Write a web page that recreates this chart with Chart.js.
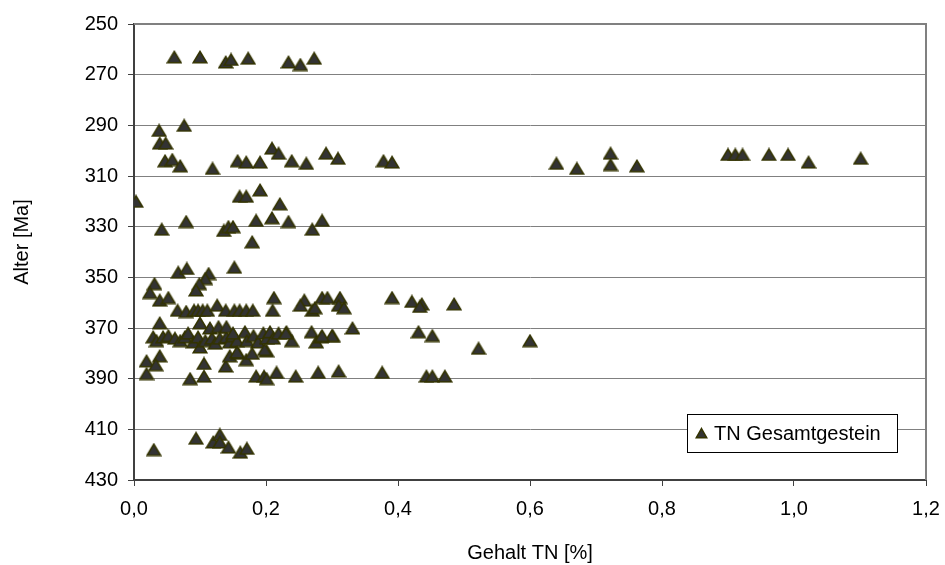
<!DOCTYPE html>
<html>
<head>
<meta charset="utf-8">
<script src="https://cdn.jsdelivr.net/npm/chart.js@4"></script>
<style>
  body { margin: 0; background: #fff; }
</style>
</head>
<body>
<canvas id="chart" width="945" height="565"></canvas>
<script>
// Gehalt TN [%] (x) und Alter [Ma] (y)
const gehaltTN = [
  0.061, 0.100, 0.139, 0.147, 0.173, 0.234, 0.252, 0.273,
  0.038, 0.076, 0.039, 0.048, 0.047, 0.058, 0.070, 0.119, 0.157, 0.170, 0.191, 0.209, 0.219, 0.239, 0.261, 0.291, 0.309, 0.378, 0.391,
  0.640, 0.671, 0.722, 0.722, 0.762, 0.900, 0.911, 0.922, 0.962, 0.991, 1.022, 1.101,
  0.003, 0.042, 0.079, 0.136, 0.143, 0.150, 0.160, 0.170, 0.191, 0.221, 0.185, 0.209, 0.234, 0.270, 0.285, 0.179, 0.152, 0.067, 0.080, 0.113, 0.108, 0.099, 0.094, 0.031, 0.024, 0.039, 0.052,
  0.212, 0.210, 0.258, 0.252, 0.270, 0.274, 0.285, 0.293, 0.312, 0.310, 0.318, 0.066, 0.079, 0.091, 0.097, 0.104, 0.111, 0.126, 0.139, 0.152, 0.160, 0.170, 0.180, 0.391, 0.421, 0.436, 0.433, 0.485,
  0.039, 0.331, 0.301, 0.431, 0.452, 0.522, 0.600,
  0.029, 0.034, 0.044, 0.052, 0.062, 0.070, 0.077, 0.082, 0.090, 0.097, 0.100, 0.108, 0.118, 0.123, 0.130, 0.140, 0.145, 0.150, 0.156, 0.100, 0.115, 0.128, 0.140,
  0.150, 0.168, 0.171, 0.181, 0.188, 0.196, 0.201, 0.206, 0.211, 0.219, 0.231, 0.239, 0.269, 0.276, 0.284, 0.300, 0.230, 0.285,
  0.019, 0.039, 0.033, 0.019, 0.106, 0.106, 0.085, 0.139, 0.145, 0.158, 0.170, 0.179, 0.201, 0.156, 0.198, 0.185, 0.197, 0.201, 0.216, 0.245, 0.279, 0.310, 0.376, 0.443, 0.452, 0.471,
  0.030, 0.094, 0.120, 0.130, 0.130, 0.143, 0.161, 0.171
];
const alterMa = [
  263, 263, 265, 264, 263.5, 265, 266, 263.5,
  292, 290, 297, 297, 304, 303.5, 306, 307, 304, 304.5, 304.5, 299, 301, 304, 305, 301, 303, 304, 304.5,
  305, 307, 301, 305.5, 306, 301.5, 301.5, 301.5, 301.5, 301.5, 304.5, 303,
  320, 331, 328, 331.5, 330, 330, 318, 318, 315.5, 321, 327.5, 326.5, 328, 331, 327.5, 336, 346, 348, 346.5, 348.5, 350.5, 352.5, 355, 352.5, 356, 359, 358,
  358, 363, 359, 361, 363, 362, 358, 358, 358, 361, 362, 363, 363.5, 363, 363, 363, 363, 361, 363, 363, 363, 363, 363, 358, 359.5, 360.5, 361.5, 360.5,
  368, 370, 373, 371.5, 373, 378, 375,
  373.5, 375, 373.5, 373, 374, 375, 373.5, 372, 375.5, 373.5, 377.5, 375, 374, 376, 374, 373.5, 375.5, 373, 375, 368, 370, 369.5, 369.5,
  372, 371.5, 375, 373, 375.5, 372, 374, 371.5, 374, 372, 371.5, 375, 371.5, 375.5, 373.5, 373, 372, 373,
  383, 381, 384.5, 388, 384, 389, 390, 385, 381, 380, 382.5, 380, 379, 379.5, 378.5, 389, 389, 390, 387.5, 389, 387.5, 387, 387.5, 389, 389, 389,
  418, 413.5, 415, 412, 415, 417, 419, 417.5
];
const seriesName = "TN Gesamtgestein";
const xTitle = "Gehalt TN [%]";
const yTitle = "Alter [Ma]";

const points = gehaltTN.map((x, i) => ({ x: x, y: alterMa[i] }));
const fontFamily = "'Liberation Sans', Arial, sans-serif";
const font = { family: fontFamily, size: 20 };

// Dreieck, mittig auf dem Punkt (wie Excel-Marker)
function makeTriangle(w, h) {
  const c = document.createElement("canvas");
  c.width = w; c.height = h;
  const g = c.getContext("2d");
  g.fillStyle = "#333333";
  g.strokeStyle = "#333300";
  g.lineWidth = 1.5;
  g.beginPath();
  g.moveTo(w / 2, 1.5);
  g.lineTo(w - 1.2, h - 1.2);
  g.lineTo(1.2, h - 1.2);
  g.closePath();
  g.fill();
  g.stroke();
  return c;
}
const marker = makeTriangle(16, 14);
const legendMarker = makeTriangle(13, 12);

const excelFrame = {
  id: "excelFrame",
  beforeDatasetsDraw(chart) {
    const { ctx, chartArea: a } = chart;
    ctx.save();
    ctx.strokeStyle = "#808080";
    ctx.lineWidth = 2;
    ctx.beginPath();
    ctx.moveTo(a.left, a.top);
    ctx.lineTo(a.right, a.top);
    ctx.lineTo(a.right, a.bottom);
    ctx.stroke();
    ctx.restore();
  },
  afterDraw(chart) {
    const { ctx, chartArea: a } = chart;
    // Achsentitel y
    ctx.save();
    ctx.fillStyle = "#000";
    ctx.font = "20px " + fontFamily;
    ctx.textAlign = "center";
    ctx.textBaseline = "middle";
    ctx.translate(22, 242);
    ctx.rotate(-Math.PI / 2);
    ctx.fillText(yTitle, 0, 0);
    ctx.restore();

    // Legende
    const x = a.right - 239, y = a.bottom - 66, w = 210, h = 38;
    ctx.save();
    ctx.fillStyle = "#fff";
    ctx.fillRect(x, y, w, h);
    ctx.strokeStyle = "#000";
    ctx.lineWidth = 1;
    ctx.strokeRect(x + 0.5, y + 0.5, w, h);
    ctx.drawImage(legendMarker, x + 8, y + 13);
    ctx.fillStyle = "#000";
    ctx.font = "20px " + fontFamily;
    ctx.textBaseline = "middle";
    ctx.fillText(seriesName, x + 27, y + h / 2 + 1);
    ctx.restore();
  }
};

new Chart(document.getElementById("chart"), {
  type: "scatter",
  data: {
    datasets: [{
      label: seriesName,
      data: points,
      pointStyle: marker,
      pointRadius: 8,
      pointHoverRadius: 8
    }]
  },
  options: {
    responsive: false,
    animation: false,
    layout: { padding: { top: 24, right: 19, left: 0, bottom: 0 } },
    plugins: {
      legend: { display: false },
      tooltip: { enabled: false }
    },
    scales: {
      x: {
        type: "linear",
        min: 0,
        max: 1.2,
        afterFit(scale) {
          scale.height = 85;
          scale.paddingLeft = 0;
          scale.paddingRight = 0;
        },
        ticks: {
          stepSize: 0.2,
          color: "#000",
          font: font,
          padding: 11,
          callback: v => v.toFixed(1).replace(".", ",")
        },
        grid: { drawOnChartArea: false, drawTicks: true, tickLength: 6, tickColor: "#404040" },
        border: { color: "#404040", width: 2 },
        title: { display: true, text: xTitle, color: "#000", font: font, padding: { top: 4, bottom: 0 } }
      },
      y: {
        type: "linear",
        reverse: true,
        min: 250,
        max: 430,
        afterFit(scale) {
          scale.width = 134;
          scale.paddingTop = 0;
          scale.paddingBottom = 0;
        },
        ticks: {
          stepSize: 20,
          color: "#000",
          font: font,
          padding: 10
        },
        grid: { color: "#808080", lineWidth: 1, drawTicks: true, tickLength: 6, tickColor: "#404040" },
        border: { color: "#404040", width: 2 }
      }
    }
  },
  plugins: [excelFrame]
});
</script>
</body>
</html>
